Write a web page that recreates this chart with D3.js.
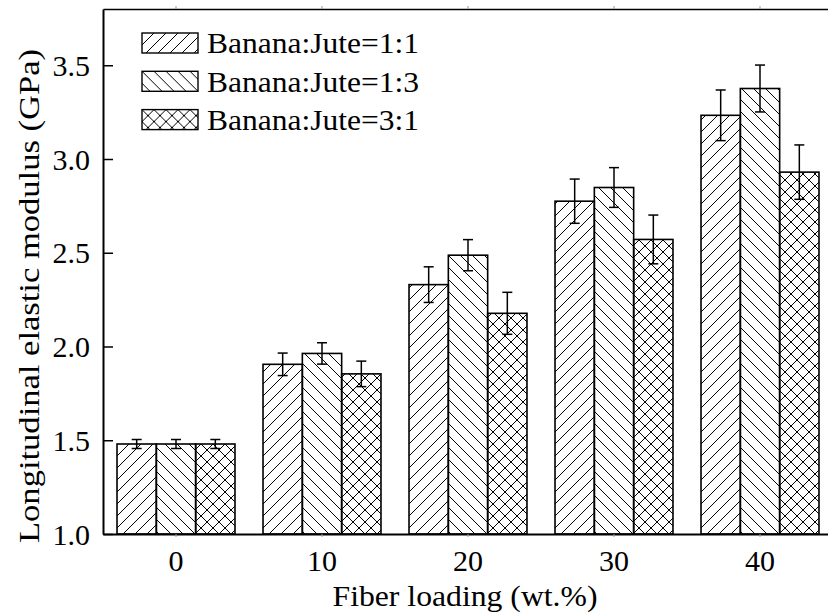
<!DOCTYPE html>
<html>
<head>
<meta charset="utf-8">
<script src="https://cdn.jsdelivr.net/npm/d3@7"></script>
<style>
  body { margin: 0; background: #fff; }
  svg text { font-family: "Liberation Serif"; fill: #000; }
</style>
</head>
<body>
<div id="chart"></div>
<script>
// data
const categories = ['0', '10', '20', '30', '40'];
const seriesNames = ['Banana:Jute=1:1', 'Banana:Jute=1:3', 'Banana:Jute=3:1'];
const ratio11 = [1.48, 1.905, 2.33, 2.775, 3.233];
const ratio11Err = [0.024, 0.06, 0.095, 0.118, 0.135];
const ratio13 = [1.48, 1.963, 2.487, 2.848, 3.376];
const ratio13Err = [0.024, 0.057, 0.083, 0.106, 0.125];
const ratio31 = [1.48, 1.854, 2.177, 2.571, 2.93];
const ratio31Err = [0.024, 0.068, 0.112, 0.13, 0.145];
const yTicks = [1.0, 1.5, 2.0, 2.5, 3.0, 3.5];

const seriesValues = [ratio11, ratio13, ratio31];
const seriesErrors = [ratio11Err, ratio13Err, ratio31Err];
const patternIds = ['hatch-fwd', 'hatch-back', 'hatch-cross'];

const svgW = 828, svgH = 613;
const plotLeft = 103, plotTop = 9, plotBottom = 534, plotRight = 833; // right frame falls just off the picture

const svg = d3.select('#chart').append('svg')
  .attr('width', svgW).attr('height', svgH);

// hatch patterns
const defs = svg.append('defs');
const tile = 12;
function addPattern(id, d) {
  defs.append('pattern').attr('id', id)
    .attr('patternUnits', 'userSpaceOnUse')
    .attr('width', tile).attr('height', tile)
    .append('path').attr('d', d)
    .attr('stroke', '#000').attr('stroke-width', 1).attr('fill', 'none');
}
const fwd = `M0,${tile} L${tile},0 M-3,3 L3,-3 M${tile - 3},${tile + 3} L${tile + 3},${tile - 3}`;
const back = `M0,0 L${tile},${tile} M-3,${tile - 3} L3,${tile + 3} M${tile - 3},-3 L${tile + 3},3`;
addPattern('hatch-fwd', fwd);
addPattern('hatch-back', back);
addPattern('hatch-cross', fwd + ' ' + back);

// scales
const x0 = d3.scaleBand().domain(categories).range([plotLeft, plotRight])
  .paddingInner(0.192).paddingOuter(0.096);
const x1 = d3.scaleBand().domain(d3.range(seriesNames.length)).range([0, x0.bandwidth()]);
const y = d3.scaleLinear().domain([1.0, 3.8]).range([plotBottom, plotTop]);

// bars
const rows = categories.map((c, i) => ({
  cat: c,
  items: seriesValues.map((vals, s) => ({ s: s, v: vals[i], e: seriesErrors[s][i] }))
}));

const groups = svg.selectAll('.group').data(rows).enter().append('g')
  .attr('class', 'group')
  .attr('transform', d => `translate(${x0(d.cat)},0)`);

groups.selectAll('rect').data(d => d.items).enter().append('rect')
  .attr('x', d => x1(d.s))
  .attr('y', d => y(d.v))
  .attr('width', x1.bandwidth())
  .attr('height', d => y(1.0) - y(d.v))
  .attr('fill', d => `url(#${patternIds[d.s]})`)
  .attr('stroke', '#000').attr('stroke-width', 1.6);

// error bars
const cap = 5;
const cx = d => x1(d.s) + x1.bandwidth() / 2;
const err = groups.selectAll('.err').data(d => d.items).enter().append('g')
  .attr('class', 'err')
  .attr('stroke', '#000').attr('stroke-width', 1.5);
err.append('line')
  .attr('x1', cx).attr('x2', cx)
  .attr('y1', d => y(d.v + d.e)).attr('y2', d => y(d.v - d.e));
err.append('line')
  .attr('x1', d => cx(d) - cap).attr('x2', d => cx(d) + cap)
  .attr('y1', d => y(d.v + d.e)).attr('y2', d => y(d.v + d.e));
err.append('line')
  .attr('x1', d => cx(d) - cap).attr('x2', d => cx(d) + cap)
  .attr('y1', d => y(d.v - d.e)).attr('y2', d => y(d.v - d.e));

// axes
const yAxis = d3.axisLeft(y).tickValues(yTicks).tickFormat(d3.format('.1f'))
  .tickSizeInner(-10).tickSizeOuter(0).tickPadding(13);
const yAxisG = svg.append('g').attr('transform', `translate(${plotLeft},0)`).call(yAxis);
yAxisG.select('.domain').attr('stroke-width', 2);
yAxisG.selectAll('.tick line').attr('stroke-width', 1.5);
yAxisG.selectAll('text').style('font-size', '30px')
  .style('font-family', '"Liberation Serif"').attr('dy', '0.34em');

const xAxis = d3.axisBottom(x0).tickSizeInner(3).tickSizeOuter(0).tickPadding(13);
const xAxisG = svg.append('g').attr('transform', `translate(0,${plotBottom})`).call(xAxis);
xAxisG.select('.domain').attr('stroke-width', 2);
xAxisG.selectAll('.tick line').attr('stroke', '#999');
xAxisG.selectAll('text').style('font-size', '30px')
  .style('font-family', '"Liberation Serif"');

const topAxis = d3.axisTop(x0).tickSizeInner(3).tickSizeOuter(0).tickFormat('');
const topAxisG = svg.append('g').attr('transform', `translate(0,${plotTop})`).call(topAxis);
topAxisG.select('.domain').attr('stroke-width', 1.6);
topAxisG.selectAll('.tick line').attr('stroke', '#999');

// axis titles (the original type is set a little wide)
svg.append('text')
  .attr('x', 465).attr('y', 606)
  .attr('text-anchor', 'middle').style('font-size', '29px')
  .attr('textLength', 265).attr('lengthAdjust', 'spacingAndGlyphs')
  .text('Fiber loading (wt.%)');
svg.append('text')
  .attr('transform', 'translate(39,296) rotate(-90)')
  .attr('text-anchor', 'middle').style('font-size', '30px')
  .attr('textLength', 494).attr('lengthAdjust', 'spacingAndGlyphs')
  .text('Longitudinal elastic modulus (GPa)');

// legend
const legend = svg.append('g').attr('transform', 'translate(142,33)');
const item = legend.selectAll('.item').data(seriesNames).enter().append('g')
  .attr('class', 'item')
  .attr('transform', (d, i) => `translate(0,${i * 38.3})`);
item.append('rect')
  .attr('width', 56).attr('height', 20)
  .attr('fill', (d, i) => `url(#${patternIds[i]})`)
  .attr('stroke', '#000').attr('stroke-width', 1.4);
item.append('text')
  .attr('x', 65).attr('y', 10).attr('dy', '0.36em')
  .style('font-size', '29px')
  .attr('textLength', 212).attr('lengthAdjust', 'spacingAndGlyphs')
  .text(d => d);
</script>
</body>
</html>
